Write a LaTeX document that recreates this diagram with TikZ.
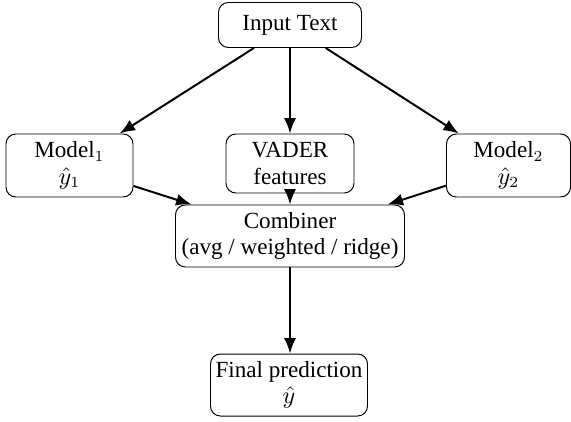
\documentclass[tikz,border=0pt]{standalone}
\usepackage{fontspec}
\setmainfont{Liberation Serif}
\usetikzlibrary{arrows.meta}
\begin{document}
\begin{tikzpicture}[x=0.4545pt,y=-0.4545pt,
  box/.style={draw,rounded corners=4.5pt,line width=0.45pt,align=center,
    inner sep=0pt,font=\fontsize{10.5}{12}\selectfont},
  flow/.style={-{Latex[length=7pt,width=5.5pt]},line width=0.9pt}]
\useasboundingbox (0,0) rectangle (571,421);
\node[box,minimum width={143*0.4545pt},minimum height={45*0.4545pt}] (in) at (290,25) {Input Text};
\node[box,minimum width={127*0.4545pt},minimum height={63*0.4545pt}] (m1) at (69.5,165.5) {Model$_1$\\$\hat{y}_1$};
\node[box,minimum width={128*0.4545pt},minimum height={59*0.4545pt}] (vd) at (290,163.5) {VADER\\features};
\node[box,minimum width={124*0.4545pt},minimum height={63*0.4545pt}] (m2) at (508.5,165.5) {Model$_2$\\$\hat{y}_2$};
\node[box,minimum width={229*0.4545pt},minimum height={62*0.4545pt}] (cb) at (290,236) {Combiner\\(avg / weighted / ridge)};
\node[box,minimum width={157*0.4545pt},minimum height={62*0.4545pt}] (fp) at (289,385) {Final prediction\\$\hat{y}$};
\draw[flow] (in) -- (m1);
\draw[flow] (in) -- (vd);
\draw[flow] (in) -- (m2);
\draw[flow] (m1) -- (cb);
\draw[flow] (vd) -- (cb);
\draw[flow] (m2) -- (cb);
\draw[flow] (cb) -- (cb |- fp.north);
\end{tikzpicture}
\end{document}
